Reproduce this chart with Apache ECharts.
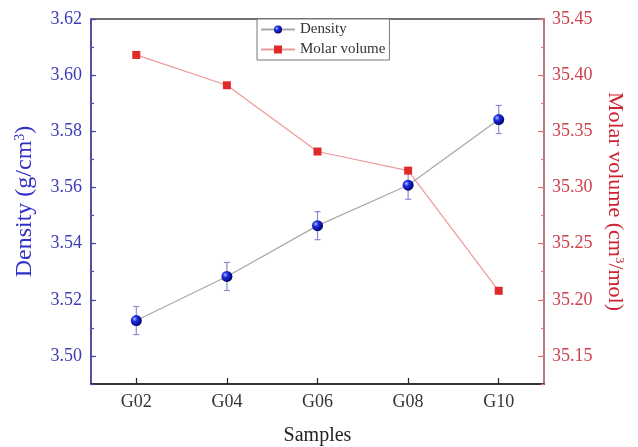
<!DOCTYPE html>
<html>
<head>
<meta charset="utf-8">
<script src="https://cdn.jsdelivr.net/npm/echarts@6/dist/echarts.min.js"></script>
<style>
  html, body { margin: 0; padding: 0; background: #fff; }
  #chart { width: 638px; height: 447px; }
</style>
</head>
<body>
<div id="chart"></div>
<script>
const samples = ['G02', 'G04', 'G06', 'G08', 'G10'];
const density = [3.5126, 3.5283, 3.5464, 3.5608, 3.5842];
const densityErr = [0.005, 0.005, 0.005, 0.005, 0.005];
const molarVolume = [35.418, 35.391, 35.332, 35.315, 35.208];
const densityTicks = [3.50, 3.52, 3.54, 3.56, 3.58, 3.60, 3.62];
const molarTicks = [35.15, 35.20, 35.25, 35.30, 35.35, 35.40, 35.45];

const serif = '"Liberation Serif", "DejaVu Serif", serif';
const blue = '#3c3cb4';
const red = '#d0404e';

const chart = echarts.init(document.getElementById('chart'));

const errData = samples.map((s, i) => [i, density[i], densityErr[i]]);

const option = {
  animation: false,
  grid: {
    left: 91, right: 94, top: 19, bottom: 63,
    outerBoundsMode: 'none',
    containLabel: false,
    show: true, borderColor: '#444', borderWidth: 1.5
  },
  legend: {
    data: ['Density', 'Molar volume'],
    orient: 'vertical',
    left: 257, top: 19,
    itemWidth: 34, itemHeight: 10, itemGap: 5,
    padding: [3, 4, 3, 3],
    borderColor: '#777', borderWidth: 1,
    backgroundColor: '#fff',
    textStyle: { fontFamily: serif, fontSize: 15, color: '#333' }
  },
  xAxis: {
    type: 'category',
    data: samples,
    boundaryGap: true,
    name: 'Samples',
    nameLocation: 'middle',
    nameGap: 42,
    nameTextStyle: { fontFamily: serif, fontSize: 20, color: '#222' },
    axisLine: { lineStyle: { color: '#222', width: 1.5 } },
    axisTick: { show: true, inside: true, length: 6, alignWithLabel: true, lineStyle: { color: '#222', width: 1.2 } },
    axisLabel: { fontFamily: serif, fontSize: 18, color: '#333', margin: 9 },
    splitLine: { show: false }
  },
  yAxis: [
    {
      type: 'value',
      min: 3.49, max: 3.62, interval: 0.01,
      position: 'left',
      name: 'Density (g/cm{sup|3})',
      nameLocation: 'middle',
      nameGap: 54,
      nameTextStyle: {
        fontFamily: serif, fontSize: 24, color: '#2f2fc8',
        rich: { sup: { fontFamily: serif, fontSize: 14, color: '#2f2fc8', verticalAlign: 'top', padding: [0, 0, 9, 0] } }
      },
      axisLine: { show: true, lineStyle: { color: '#4848b0', width: 1.5 } },
      axisTick: { show: true, inside: true, length: 5, customValues: densityTicks, lineStyle: { color: '#4848b0', width: 1.2 } },
      axisLabel: { customValues: densityTicks, fontFamily: serif, fontSize: 18, color: blue, margin: 9,
        formatter: v => v.toFixed(2) },
      splitLine: { show: false }
    },
    {
      type: 'value',
      min: 35.125, max: 35.45, interval: 0.025,
      position: 'right',
      name: 'Molar volume (cm{sup|3}/mol)',
      nameLocation: 'middle',
      nameRotate: -90,
      nameGap: 60,
      nameTextStyle: {
        fontFamily: serif, fontSize: 22, color: '#cc2232',
        rich: { sup: { fontFamily: serif, fontSize: 13, color: '#cc2232', verticalAlign: 'top', padding: [0, 0, 8, 0] } }
      },
      axisLine: { show: true, lineStyle: { color: '#d87880', width: 1.5 } },
      axisTick: { show: true, inside: true, length: 6, customValues: molarTicks, lineStyle: { color: '#d87880', width: 1.2 } },
      axisLabel: { customValues: molarTicks, fontFamily: serif, fontSize: 18, color: red, margin: 8,
        formatter: v => v.toFixed(2) },
      splitLine: { show: false }
    },
    {
      // minor ticks, left
      type: 'value',
      min: 3.49, max: 3.62, interval: 0.01,
      position: 'left',
      axisLine: { show: false },
      axisTick: { show: true, inside: true, length: 3, lineStyle: { color: '#4848b0', width: 1.2 } },
      axisLabel: { show: false },
      splitLine: { show: false }
    },
    {
      // minor ticks, right
      type: 'value',
      min: 35.125, max: 35.45, interval: 0.025,
      position: 'right',
      axisLine: { show: false },
      axisTick: { show: true, inside: true, length: 3, lineStyle: { color: '#d87880', width: 1.2 } },
      axisLabel: { show: false },
      splitLine: { show: false }
    }
  ],
  series: [
    {
      name: 'Density',
      type: 'line',
      yAxisIndex: 0,
      data: density,
      symbol: 'circle',
      symbolSize: 11,
      z: 5,
      lineStyle: { color: '#a8a8a8', width: 1.2 },
      itemStyle: {
        color: new echarts.graphic.RadialGradient(0.35, 0.35, 0.65, [
          { offset: 0, color: '#b8c0ff' },
          { offset: 0.35, color: '#2030e8' },
          { offset: 1, color: '#000070' }
        ])
      }
    },
    {
      name: 'Molar volume',
      type: 'line',
      yAxisIndex: 1,
      data: molarVolume,
      symbol: 'rect',
      symbolSize: 8,
      z: 4,
      lineStyle: { color: '#eb9a9a', width: 1.2 },
      itemStyle: { color: '#e02a2a' }
    },
    {
      type: 'custom',
      yAxisIndex: 0,
      z: 3,
      data: errData,
      renderItem: function (params, api) {
        const i = api.value(0);
        const v = api.value(1);
        const e = api.value(2);
        const lo = api.coord([i, v - e]);
        const hi = api.coord([i, v + e]);
        const w = 3;
        const style = { stroke: '#8c8cd0', lineWidth: 1.2 };
        return {
          type: 'group',
          children: [
            { type: 'line', shape: { x1: lo[0], y1: lo[1], x2: hi[0], y2: hi[1] }, style: style },
            { type: 'line', shape: { x1: lo[0] - w, y1: lo[1], x2: lo[0] + w, y2: lo[1] }, style: style },
            { type: 'line', shape: { x1: hi[0] - w, y1: hi[1], x2: hi[0] + w, y2: hi[1] }, style: style }
          ]
        };
      }
    }
  ]
};

chart.setOption(option);
</script>
</body>
</html>
